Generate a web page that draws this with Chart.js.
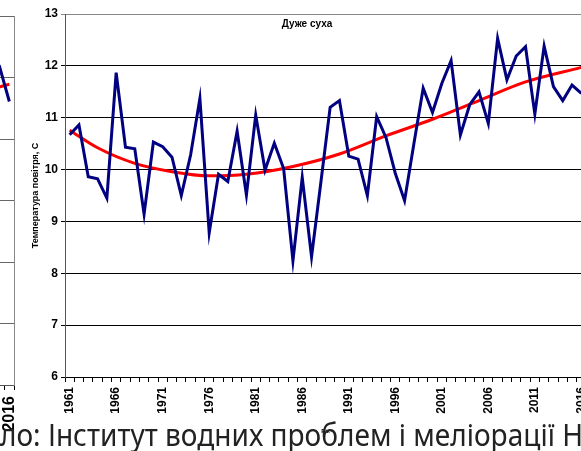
<!DOCTYPE html>
<html>
<head>
<meta charset="utf-8">
<script src="https://cdn.jsdelivr.net/npm/chart.js@4.4.1/dist/chart.umd.min.js"></script>
<style>
  html, body { margin: 0; padding: 0; background: #fff; width: 581px; height: 451px; overflow: hidden; }
  #wrap { position: relative; width: 581px; height: 451px; overflow: hidden; }
  #prev { position: absolute; left: -36px; top: 0; }
  #main { position: absolute; left: 0; top: 0; }
  #src { position: absolute; top: 419px; left: 0; white-space: nowrap; font-family: "Noto Sans", sans-serif;
         font-size: 31px; line-height: 31px; color: #222; transform-origin: 0 0; }
</style>
</head>
<body>
<div id="wrap">
  <canvas id="prev" width="56" height="451"></canvas>
  <canvas id="main" width="600" height="451"></canvas>
  <div id="src"><span id="vis">ло: Інститут водних проблем і меліорації Н</span>ААН</div>
</div>
<script>
// Роки (категорії осі X)
const years = [
  "1961","1962","1963","1964","1965","1966","1967","1968","1969","1970",
  "1971","1972","1973","1974","1975","1976","1977","1978","1979","1980",
  "1981","1982","1983","1984","1985","1986","1987","1988","1989","1990",
  "1991","1992","1993","1994","1995","1996","1997","1998","1999","2000",
  "2001","2002","2003","2004","2005","2006","2007","2008","2009","2010",
  "2011","2012","2013","2014","2015","2016"
];

// Середня температура повітря, °C
const temperature = [
  10.67, 10.86, 9.86, 9.82, 9.45, 11.87, 10.43, 10.40, 9.14, 10.53,
  10.44, 10.24, 9.50, 10.28, 11.37, 8.78, 9.91, 9.77, 10.74, 9.51,
  11.05, 9.99, 10.51, 10.02, 8.24, 9.85, 8.32, 9.75, 11.20, 11.33,
  10.26, 10.20, 9.50, 11.02, 10.62, 9.93, 9.40, 10.50, 11.57, 11.10,
  11.66, 12.10, 10.67, 11.25, 11.50, 10.89, 12.53, 11.73, 12.19, 12.37,
  11.07, 12.38, 11.60, 11.33, 11.63, 11.47
];

// Лінія тренду (зчитані точки)
const trendYears = ["1961","1964","1968","1972","1976","1980","1985","1990","1995","2000","2005","2010","2016"];
const trendValues = [10.76, 10.42, 10.12, 9.96, 9.88, 9.91, 10.06, 10.30, 10.65, 10.97, 11.33, 11.69, 11.97];

const yTicks = [6, 7, 8, 9, 10, 11, 12, 13];

// Попередній графік (видно лише край)
const prevYears = ["2014","2015","2016"];
const prevTemperature = [11.90, 12.15, 11.61];
const prevTrend = [11.81, 11.85, 11.89];

const chartTitle = "Дуже суха";
const yTitle = "Температура повітря, С";
const xTitle = "Рік";

Chart.defaults.font.family = '"Liberation Sans", Arial, sans-serif';
Chart.defaults.color = "#000";

function everyFifth(labels) {
  return function (val, idx) {
    const y = parseInt(labels[idx], 10);
    return (y - 1961) % 5 === 0 ? labels[idx] : "";
  };
}

function noSidePadding(s) {
  s.paddingLeft = 0;
  s.paddingRight = 0;
}

// Назва всередині області графіка
const innerTitle = {
  id: "innerTitle",
  afterDraw(chart, args, opts) {
    if (!opts.text) return;
    const ctx = chart.ctx;
    ctx.save();
    ctx.font = 'bold 10px "Liberation Sans", Arial, sans-serif';
    ctx.fillStyle = "#000";
    ctx.textAlign = "center";
    ctx.textBaseline = "middle";
    ctx.fillText(opts.text, opts.x, opts.y);
    ctx.restore();
  }
};

// Основний графік
new Chart(document.getElementById("main"), {
  type: "line",
  data: {
    labels: years,
    datasets: [
      {
        data: temperature,
        borderColor: "#000080",
        borderWidth: 3,
        pointRadius: 0,
        tension: 0
      },
      {
        data: trendYears.map((y, i) => ({ x: y, y: trendValues[i] })),
        borderColor: "#ff0000",
        borderWidth: 3,
        pointRadius: 0,
        cubicInterpolationMode: "monotone"
      }
    ]
  },
  options: {
    responsive: false,
    animation: false,
    layout: { padding: { left: 25, right: 14, top: 14, bottom: 0 } },
    plugins: {
      legend: { display: false },
      tooltip: { enabled: false },
      innerTitle: { text: chartTitle, x: 307, y: 24 }
    },
    scales: {
      x: {
        type: "category",
        offset: true,
        grid: { offset: true, drawOnChartArea: false, drawTicks: true, tickLength: 5, color: "#000" },
        border: { color: "#000", width: 1 },
        ticks: {
          autoSkip: false,
          maxRotation: 90,
          minRotation: 90,
          padding: 5,
          font: { size: 12, weight: "bold" },
          callback: everyFifth(years)
        },
        title: { display: true, text: xTitle, font: { size: 6, weight: "bold" }, padding: { top: 0, bottom: 16 } },
        afterFit: s => { s.height = 74; noSidePadding(s); }
      },
      y: {
        min: 6,
        max: 13,
        afterBuildTicks: s => { s.ticks = yTicks.map(v => ({ value: v })); },
        grid: {
          color: c => (c.tick && c.tick.value === 13 ? "#888" : "#000"),
          lineWidth: 1,
          drawTicks: true,
          tickLength: 4
        },
        border: { color: "#555", width: 1 },
        ticks: { padding: 3, font: { size: 12, weight: "bold" } },
        title: { display: true, text: yTitle, font: { size: 9, weight: "bold" }, padding: { top: 5, bottom: 0 } },
        afterFit: s => { s.width = 40; }
      }
    }
  },
  plugins: [innerTitle]
});

// Край попереднього графіка ліворуч
new Chart(document.getElementById("prev"), {
  type: "line",
  data: {
    labels: prevYears,
    datasets: [
      { data: prevTemperature, borderColor: "#000080", borderWidth: 3, pointRadius: 0, tension: 0 },
      { data: prevTrend, borderColor: "#ff0000", borderWidth: 3, pointRadius: 0, tension: 0 }
    ]
  },
  options: {
    responsive: false,
    animation: false,
    layout: { padding: { left: 22, right: 6, top: 16, bottom: 0 } },
    plugins: { legend: { display: false }, tooltip: { enabled: false } },
    scales: {
      x: {
        offset: true,
        grid: { offset: true, drawOnChartArea: false, tickLength: 5, color: "#000" },
        border: { color: "#555" },
        ticks: {
          autoSkip: false, maxRotation: 90, minRotation: 90, padding: 6,
          font: { size: 16, weight: "bold" },
          callback: everyFifth(prevYears)
        },
        afterFit: s => { s.height = 66; noSidePadding(s); }
      },
      y: {
        position: "right",
        min: 7,
        max: 13,
        ticks: { display: false, stepSize: 1 },
        grid: { color: "#666", drawTicks: false },
        border: { color: "#888" },
        afterFit: s => { s.width = 0; s.paddingTop = 0; s.paddingBottom = 0; }
      }
    }
  }
});

// Підпис джерела: стискаємо по ширині, щоб «Н» доходило до правого краю
function fitSource() {
  const src = document.getElementById("src");
  const vis = document.getElementById("vis");
  src.style.transform = "none";
  const k = 583 / vis.getBoundingClientRect().width;
  src.style.transform = "scaleX(" + k + ")";
}
fitSource();
if (document.fonts && document.fonts.ready) document.fonts.ready.then(fitSource);
</script>
</body>
</html>
